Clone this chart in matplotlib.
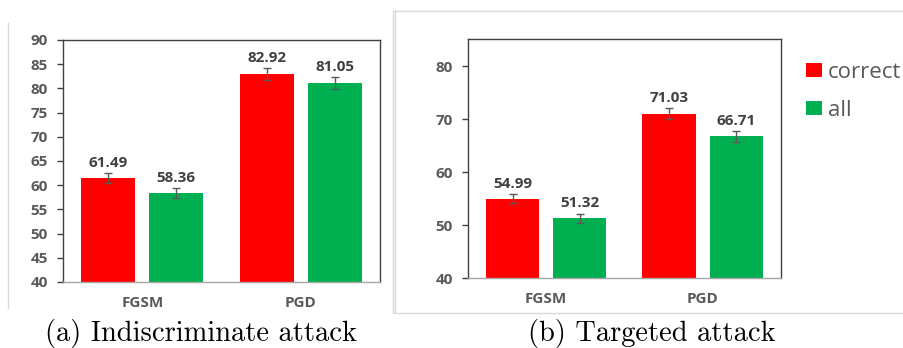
import numpy as np
import matplotlib
matplotlib.use('Agg')
import matplotlib.pyplot as plt
from matplotlib.lines import Line2D
from matplotlib.font_manager import FontProperties

# data
attacks = ['FGSM', 'PGD']
series = ['correct', 'all']
indisc_correct = [61.49, 82.92]
indisc_all = [58.36, 81.05]
indisc_err = [1.0, 1.2]
target_correct = [54.99, 71.03]
target_all = [51.32, 66.71]
target_err = [0.85, 1.0]
colors = ['#ff0000', '#00b050']

bold_size = 11
value_font = dict(family='Open Sans', weight='bold', size=bold_size, color='#404040')

fig = plt.figure(figsize=(9.04, 3.48), dpi=100)
fig.patch.set_facecolor('white')


def draw(ax, vals, errs, ylim, yticks):
    x = np.arange(len(attacks))
    w = 0.34
    off = 0.215
    bars = []
    for k, (v, e) in enumerate(zip(vals, errs)):
        pos = x + (k * 2 - 1) * off
        b = ax.bar(pos, v, w, color=colors[k], label=series[k], zorder=2)
        bars.append(b)
        ax.errorbar(pos, v, yerr=e, fmt='none', ecolor='#595959',
                    elinewidth=1, capsize=3, capthick=1, zorder=3)
        for p, vv, ee in zip(pos, v, e):
            ax.annotate('%.2f' % vv, (p, vv + ee), xytext=(0, 2.5),
                        textcoords='offset points', ha='center', va='bottom',
                        **value_font)
    ax.set_xlim(-0.5, 1.5)
    ax.set_ylim(*ylim)
    ax.set_yticks(yticks)
    ax.set_yticklabels([str(t) for t in yticks])
    ax.set_xticks(x)
    ax.set_xticklabels(attacks)
    for lab in ax.get_yticklabels() + ax.get_xticklabels():
        lab.set_fontproperties(FontProperties(family='Open Sans', weight='bold',
                                              size=bold_size))
        lab.set_color('#595959')
    ax.tick_params(axis='y', length=4, width=1, color='#404040', pad=7)
    ax.tick_params(axis='x', length=0, pad=10)
    for s in ['left', 'top', 'right']:
        ax.spines[s].set_color('#404040')
        ax.spines[s].set_linewidth(1)
    ax.spines['bottom'].set_color('#a6a6a6')
    ax.spines['bottom'].set_linewidth(1)
    return bars


ax1 = fig.add_axes([0.0697, 0.1897, 0.3507, 0.6954])
draw(ax1, [indisc_correct, indisc_all], [indisc_err, indisc_err],
     (40, 90), list(range(40, 91, 5)))

ax2 = fig.add_axes([0.5177, 0.2011, 0.3462, 0.6868])
bars = draw(ax2, [target_correct, target_all], [target_err, target_err],
            (40, 85.1), list(range(40, 81, 10)))

leg = fig.legend(handles=bars, labels=series, loc='upper left',
                 bbox_to_anchor=(806 / 904, 1 - 62 / 348), frameon=False,
                 prop=dict(family='Open Sans', size=16),
                 handlelength=0.7, handleheight=0.6, handletextpad=0.3,
                 labelspacing=0.75, borderpad=0, borderaxespad=0)
for t in leg.get_texts():
    t.set_color('#595959')

# light panel borders
W, H = 904, 348
grey = '#d9d9d9'
fig.add_artist(Line2D([8 / W, 8 / W], [1 - 23 / H, 1 - 308 / H], color=grey, lw=1))
fig.add_artist(Line2D([395 / W, 395 / W], [1 - 10 / H, 1 - 312 / H], color=grey, lw=1))
fig.add_artist(Line2D([393 / W, 393 / W, 1], [1 - 11 / H, 1 - 313 / H, 1 - 313 / H],
                      color=grey, lw=1))
fig.add_artist(Line2D([393 / W, 1], [1 - 11 / H, 1 - 11 / H], color=grey, lw=1))

# captions
fig.text(201 / W, 1 - 333 / H, '(a) Indiscriminate attack', ha='center', va='center',
         family='cmr10', size=20.5)
fig.text(652 / W, 1 - 333 / H, '(b) Targeted attack', ha='center', va='center',
         family='cmr10', size=20.5)

fig.savefig('out.png', dpi=100)
